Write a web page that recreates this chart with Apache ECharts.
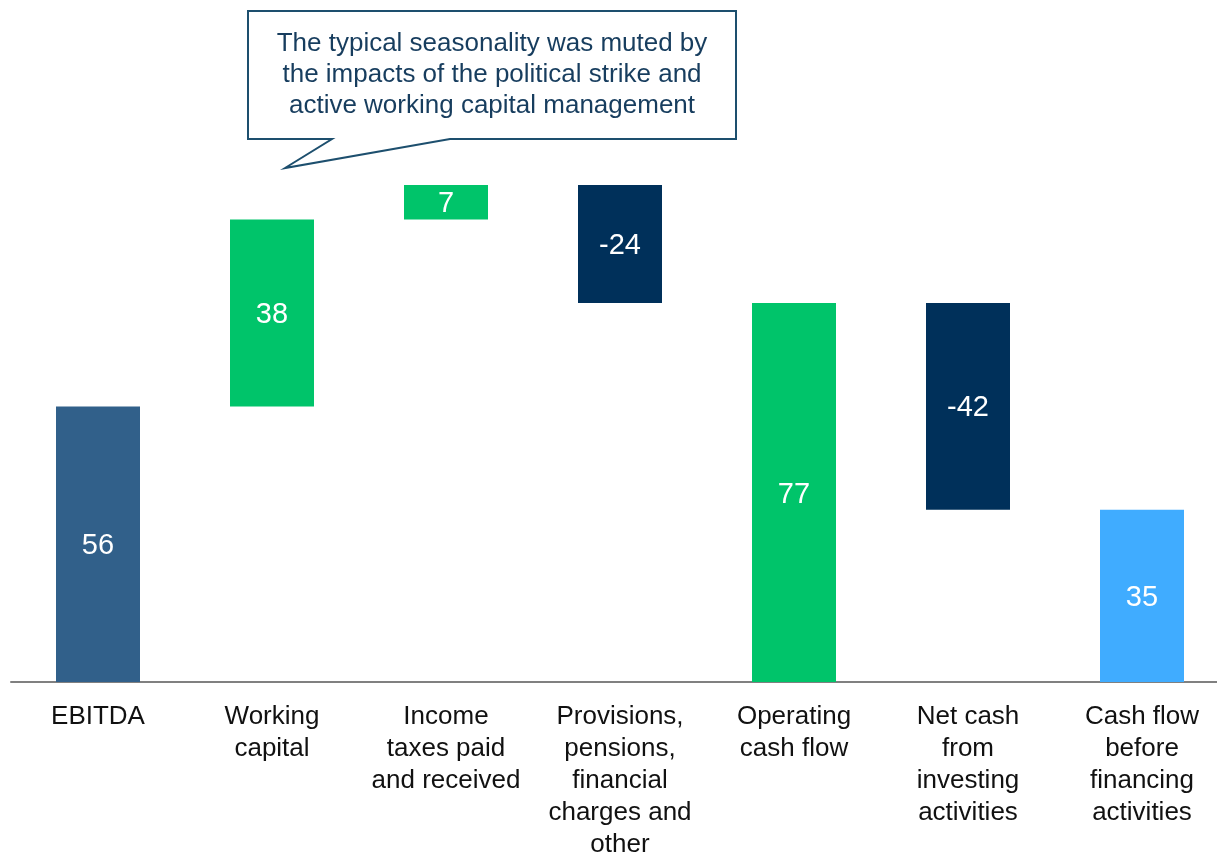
<!DOCTYPE html>
<html>
<head>
<meta charset="utf-8">
<script src="https://cdn.jsdelivr.net/npm/echarts@6/dist/echarts.min.js"></script>
<style>
  html, body { margin: 0; padding: 0; background: #fff; }
  #chart { width: 1217px; height: 853px; }
</style>
</head>
<body>
<div id="chart"></div>
<script>
// data
var categories = ['EBITDA', 'Working\ncapital', 'Income\ntaxes paid\nand received',
  'Provisions,\npensions,\nfinancial\ncharges and\nother', 'Operating\ncash flow',
  'Net cash\nfrom\ninvesting\nactivities', 'Cash flow\nbefore\nfinancing\nactivities'];
var values = [56, 38, 7, -24, 77, -42, 35];
var kinds = ['total', 'delta', 'delta', 'delta', 'total', 'delta', 'total'];
var barColors = ['#31608a', '#00c46a', '#00c46a', '#00305a', '#00c46a', '#00305a', '#40acff'];
var note = 'The typical seasonality was muted by\nthe impacts of the political strike and\nactive working capital management';

// waterfall: invisible base + visible part
var base = [], part = [];
var running = 0;
for (var i = 0; i < values.length; i++) {
  var v = values[i];
  if (kinds[i] === 'total') {
    base.push(0);
    part.push(v);
    running = v;
  } else if (v >= 0) {
    base.push(running);
    part.push(v);
    running += v;
  } else {
    base.push(running + v);
    part.push(-v);
    running += v;
  }
}

var chart = echarts.init(document.getElementById('chart'));
var option = {
  animation: false,
  textStyle: { fontFamily: 'Liberation Sans, Arial, sans-serif' },
  grid: { left: 11, top: 185, width: 1218, bottom: 171, outerBoundsMode: 'none', containLabel: false },
  xAxis: {
    type: 'category',
    data: categories,
    axisLine: { lineStyle: { color: '#808080', width: 2 } },
    axisTick: { show: false },
    axisLabel: {
      color: '#111', fontSize: 26, lineHeight: 32, margin: 19,
      interval: 0, verticalAlign: 'top', hideOverlap: false
    }
  },
  yAxis: {
    type: 'value', min: 0, max: 101,
    show: false,
    splitLine: { show: false }
  },
  series: [
    {
      type: 'bar', stack: 'wf', data: base, barWidth: 84,
      itemStyle: { color: 'transparent' }, silent: true
    },
    {
      type: 'bar', stack: 'wf', barWidth: 84,
      data: part.map(function (p, i) {
        return { value: p, itemStyle: { color: barColors[i] } };
      }),
      label: {
        show: true, position: 'inside', offset: [0, 2], color: '#fff', fontSize: 29,
        formatter: function (p) { return String(values[p.dataIndex]); }
      }
    }
  ],
  graphic: [
    {
      type: 'polygon',
      shape: {
        points: [[248, 11], [736, 11], [736, 139], [450, 139], [285, 168], [332, 139], [248, 139]]
      },
      style: { fill: '#fff', stroke: '#1d4f6e', lineWidth: 2 }
    },
    {
      type: 'text', x: 492, y: 28,
      style: {
        text: note, fill: '#173d5e', fontSize: 26, lineHeight: 31,
        align: 'center', verticalAlign: 'top',
        fontFamily: 'Liberation Sans, Arial, sans-serif'
      }
    }
  ]
};
chart.setOption(option);
</script>
</body>
</html>
